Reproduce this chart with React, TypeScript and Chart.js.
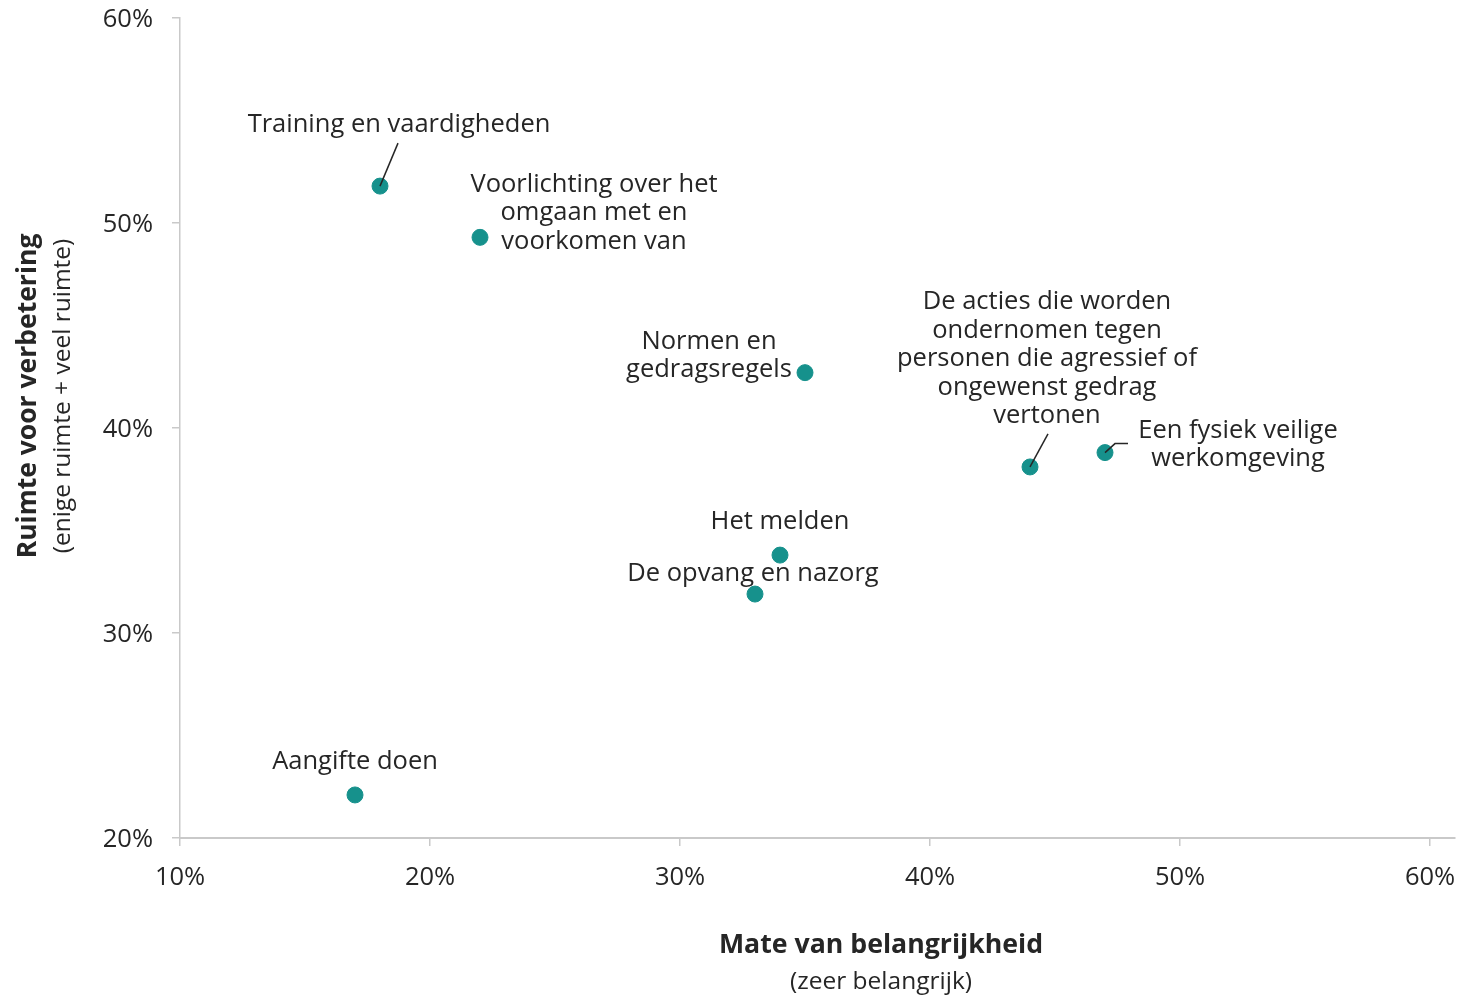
import React, { useEffect, useRef } from "react";
import { Chart, registerables } from "chart.js";

Chart.register(...registerables);

// ---- Data ----
const categories = [
  "Training en vaardigheden",
  "Voorlichting over het omgaan met en voorkomen van",
  "Normen en gedragsregels",
  "De acties die worden ondernomen tegen personen die agressief of ongewenst gedrag vertonen",
  "Een fysiek veilige werkomgeving",
  "Het melden",
  "De opvang en nazorg",
  "Aangifte doen",
];
const importance = [18, 22, 35, 44, 47, 34, 33, 17]; // x, %
const improvement = [51.8, 49.3, 42.7, 38.1, 38.8, 33.8, 31.9, 22.1]; // y, %
const xTickValues = [10, 20, 30, 40, 50, 60];
const yTickValues = [20, 30, 40, 50, 60];

// label text wrapping (text only)
const labelLines = [
  ["Training en vaardigheden"],
  ["Voorlichting over het", "omgaan met en", "voorkomen van"],
  ["Normen en", "gedragsregels"],
  ["De acties die worden", "ondernomen tegen", "personen die agressief of", "ongewenst gedrag", "vertonen"],
  ["Een fysiek veilige", "werkomgeving"],
  ["Het melden"],
  ["De opvang en nazorg"],
  ["Aangifte doen"],
];

// label placement relative to the point (pixels) and optional leader lines
const labelLayout: { dx: number; dy: number; leader?: number[][] }[] = [
  { dx: 19, dy: -61, leader: [[18, -43], [0, 0]] },
  { dx: 114, dy: -53 },
  { dx: -96, dy: -31 },
  { dx: 17, dy: -165, leader: [[18, -33], [0, 0]] },
  { dx: 133, dy: -22, leader: [[23, -9], [10, -9], [0, 0]] },
  { dx: 0, dy: -33 },
  { dx: -2, dy: -20 },
  { dx: 0, dy: -33 },
];

const FONT = "'Open Sans', 'Noto Sans', sans-serif";
const TEXT = "#262626";
const TEAL = "#16918c";
const AXIS = "#c9c9c9";
const LINE_H = 28.5;
const LABEL_SIZE = 25.5;

const labelsPlugin = {
  id: "pointLabels",
  afterDatasetsDraw(chart: any) {
    const ctx = chart.ctx;
    const meta = chart.getDatasetMeta(0);
    ctx.save();
    meta.data.forEach((el: any, i: number) => {
      const lay = labelLayout[i];
      const px = el.x;
      const py = el.y;
      if (lay.leader) {
        ctx.beginPath();
        ctx.strokeStyle = TEXT;
        ctx.lineWidth = 1.5;
        lay.leader.forEach((p, k) => {
          if (k === 0) ctx.moveTo(px + p[0], py + p[1]);
          else ctx.lineTo(px + p[0], py + p[1]);
        });
        ctx.stroke();
      }
      ctx.fillStyle = TEXT;
      ctx.font = `${LABEL_SIZE}px ${FONT}`;
      ctx.textAlign = "center";
      ctx.textBaseline = "middle";
      labelLines[i].forEach((line, k) => {
        ctx.fillText(line, px + lay.dx, py + lay.dy + k * LINE_H);
      });
    });
    ctx.restore();
  },
};

const titlesPlugin = {
  id: "axisTitles",
  afterDraw(chart: any) {
    const ctx = chart.ctx;
    ctx.save();
    ctx.fillStyle = TEXT;
    ctx.textAlign = "center";
    ctx.textBaseline = "middle";
    ctx.font = `bold 26.7px ${FONT}`;
    ctx.fillText("Mate van belangrijkheid", 881, 945);
    ctx.font = `24.5px ${FONT}`;
    ctx.fillText("(zeer belangrijk)", 881, 982);
    ctx.translate(28, 396);
    ctx.rotate(-Math.PI / 2);
    ctx.font = `bold 26.5px ${FONT}`;
    ctx.fillText("Ruimte voor verbetering", 0, 0);
    ctx.font = `24.5px ${FONT}`;
    ctx.fillText("(enige ruimte + veel ruimte)", 0, 35);
    ctx.restore();
  },
};

export default function App() {
  const ref = useRef<HTMLCanvasElement | null>(null);
  useEffect(() => {
    if (!ref.current) return;
    const chart = new Chart(ref.current, {
      type: "scatter",
      data: {
        datasets: [
          {
            label: "Thema's",
            data: importance.map((x, i) => ({ x, y: improvement[i] })),
            backgroundColor: TEAL,
            borderColor: TEAL,
            pointRadius: 8,
            pointHoverRadius: 8,
          },
        ],
      },
      options: {
        animation: false,
        responsive: false,
        maintainAspectRatio: false,
        layout: { autoPadding: false, padding: { top: 18, right: 6, left: 0, bottom: 0 } },
        plugins: {
          legend: { display: false },
          tooltip: { enabled: false },
        },
        scales: {
          x: {
            type: "linear",
            min: 10,
            max: 61,
            afterBuildTicks: (s: any) => {
              s.ticks = xTickValues.map((v) => ({ value: v }));
            },
            afterFit: (s: any) => {
              s.height = 158;
              s.paddingLeft = 0;
              s.paddingRight = 0;
            },
            grid: {
              display: true,
              drawOnChartArea: false,
              drawTicks: true,
              tickLength: 8,
              color: AXIS,
              lineWidth: 1.5,
            },
            border: { display: true, color: AXIS, width: 2 },
            ticks: {
              padding: 16,
              color: TEXT,
              font: { family: FONT, size: LABEL_SIZE },
              callback: (v: any) => `${v}%`,
              maxRotation: 0,
            },
          },
          y: {
            type: "linear",
            min: 20,
            max: 60,
            afterBuildTicks: (s: any) => {
              s.ticks = yTickValues.map((v) => ({ value: v }));
            },
            afterFit: (s: any) => {
              s.width = 180;
              s.paddingTop = 0;
              s.paddingBottom = 0;
            },
            grid: {
              display: true,
              drawOnChartArea: false,
              drawTicks: true,
              tickLength: 8,
              color: AXIS,
              lineWidth: 1.5,
            },
            border: { display: true, color: AXIS, width: 1.5 },
            ticks: {
              padding: 19,
              labelOffset: 2,
              color: TEXT,
              font: { family: FONT, size: LABEL_SIZE },
              callback: (v: any) => `${v}%`,
            },
          },
        },
      },
      plugins: [labelsPlugin, titlesPlugin],
    } as any);
    return () => chart.destroy();
  }, []);
  return (
    <div style={{ position: "fixed", left: 0, top: 0, width: 1461, height: 996, background: "#fff" }}>
      <canvas ref={ref} width={1461} height={996} style={{ width: 1461, height: 996 }} />
    </div>
  );
}
